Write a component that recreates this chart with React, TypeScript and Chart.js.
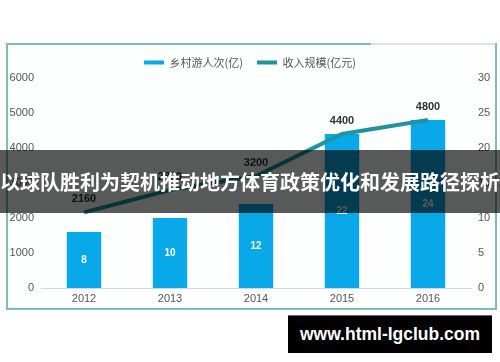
import React, { useEffect, useRef } from "react";
import { Chart, registerables } from "chart.js";

Chart.register(...registerables);

const categories = ["2012", "2013", "2014", "2015", "2016"];
const visitors = [8, 10, 12, 22, 24]; // 乡村游人次(亿)
const revenue = [2160, 2800, 3200, 4400, 4800]; // 收入规模(亿元)
const leftTicks = [0, 1000, 2000, 3000, 4000, 5000, 6000];
const rightTicks = [0, 5, 10, 15, 20, 25, 30];

const BAR_COLOR = "#09a8e8";
const LINE_COLOR = "#1f93a1";
const FONT = "'Liberation Sans', 'Noto Sans CJK SC', sans-serif";
const CJK = "'Noto Sans CJK SC', 'Liberation Sans', sans-serif";

const valuePlugin = {
  id: "valueLabels",
  afterDatasetsDraw(chart: any) {
    const ctx = chart.ctx;
    ctx.save();
    chart.data.datasets.forEach((ds: any, i: number) => {
      const meta = chart.getDatasetMeta(i);
      meta.data.forEach((el: any, j: number) => {
        const v = ds.data[j];
        ctx.textAlign = "center";
        ctx.textBaseline = "middle";
        if (meta.type === "bar") {
          ctx.fillStyle = "#ffffff";
          ctx.font = `bold 10px ${FONT}`;
          ctx.fillText(String(v), el.x, (el.y + el.base) / 2);
        } else {
          ctx.fillStyle = "#333333";
          ctx.font = `bold 11px ${FONT}`;
          ctx.fillText(String(v), el.x, el.y - 13);
        }
      });
    });
    ctx.restore();
  },
};

export default function App() {
  const ref = useRef<HTMLCanvasElement | null>(null);

  useEffect(() => {
    if (!ref.current) return;
    const chart = new Chart(ref.current, {
      type: "bar",
      data: {
        labels: categories,
        datasets: [
          {
            type: "bar",
            label: "乡村游人次(亿)",
            data: visitors,
            yAxisID: "y1",
            backgroundColor: BAR_COLOR,
            borderColor: BAR_COLOR,
            borderWidth: 0,
            categoryPercentage: 1,
            barPercentage: 0.4,
            order: 2,
          } as any,
          {
            type: "line",
            label: "收入规模(亿元)",
            data: revenue,
            yAxisID: "y",
            borderColor: LINE_COLOR,
            backgroundColor: LINE_COLOR,
            borderWidth: 4,
            pointRadius: 0,
            tension: 0,
            order: 1,
          } as any,
        ],
      },
      options: {
        animation: false,
        responsive: false,
        maintainAspectRatio: false,
        layout: { padding: { top: 43, left: 0, right: 0, bottom: 52 } },
        plugins: {
          tooltip: { enabled: false },
          legend: {
            display: true,
            position: "top",
            labels: {
              boxWidth: 20,
              boxHeight: 4,
              padding: 14,
              color: "#555",
              font: { size: 11, family: CJK },
              sort: (a: any, b: any) => a.datasetIndex - b.datasetIndex,
              generateLabels: (chart: any) => {
                const base = (Chart.defaults.plugins.legend.labels as any).generateLabels(chart);
                return base.map((item: any) => {
                  const ds = chart.data.datasets[item.datasetIndex];
                  return {
                    ...item,
                    fillStyle: ds.borderColor,
                    strokeStyle: ds.borderColor,
                    lineWidth: 0,
                  };
                });
              },
            },
          },
        },
        scales: {
          x: {
            grid: { display: false, drawTicks: false },
            border: { display: true, color: "#cfd8dc" },
            ticks: { color: "#555", font: { size: 11, family: FONT }, padding: 4 },
            afterFit: (s: any) => {
              s.height = 22;
            },
          },
          y: {
            position: "left",
            min: 0,
            max: 6000,
            grid: { display: false, drawTicks: false },
            border: { display: false },
            afterBuildTicks: (s: any) => {
              s.ticks = leftTicks.map((v) => ({ value: v }));
            },
            ticks: {
              color: "#555",
              font: { size: 11, family: FONT },
              padding: 7,
              callback: (v: any) => String(v),
            },
            afterFit: (s: any) => {
              s.width = 41;
            },
          },
          y1: {
            position: "right",
            min: 0,
            max: 30,
            grid: { display: false, drawTicks: false },
            border: { display: false },
            afterBuildTicks: (s: any) => {
              s.ticks = rightTicks.map((v) => ({ value: v }));
            },
            ticks: {
              color: "#555",
              font: { size: 11, family: FONT },
              padding: 7,
              callback: (v: any) => String(v),
            },
            afterFit: (s: any) => {
              s.width = 29;
            },
          },
        },
      },
      plugins: [valuePlugin],
    });
    return () => chart.destroy();
  }, []);

  return (
    <div style={{ position: "absolute", left: 0, top: 0, width: 500, height: 362, background: "#fff", overflow: "hidden" }}>
      <div
        style={{
          position: "absolute",
          left: 6,
          top: 43,
          width: 487,
          height: 263,
          border: "2px solid #7dbdb5",
          background: "#fdfefe",
        }}
      />
      <div style={{ position: "absolute", left: 371, top: 43, width: 124, height: 2, background: "#dde3e3" }} />
      <canvas ref={ref} width={500} height={362} style={{ position: "absolute", left: 0, top: 0, width: 500, height: 362 }} />
      <div
        style={{
          position: "absolute",
          left: 0,
          top: 150,
          width: 500,
          height: 63,
          background: "rgba(0,0,0,0.65)",
          color: "#fff",
          fontFamily: CJK,
          fontWeight: "bold",
          fontSize: 20,
          lineHeight: "63px",
          textAlign: "center",
          whiteSpace: "nowrap",
        }}
      >
        以球队胜利为契机推动地方体育政策优化和发展路径探析
      </div>
      <div
        style={{
          position: "absolute",
          left: 288,
          top: 315,
          width: 204,
          height: 38,
          background: "#000",
          borderTop: "1px solid #666",
          boxSizing: "border-box",
          color: "#fff",
          fontFamily: FONT,
          fontWeight: "bold",
          fontSize: 17.5,
          lineHeight: "36px",
          textAlign: "center",
          whiteSpace: "nowrap",
        }}
      >
        www.html-lgclub.com
      </div>
    </div>
  );
}
